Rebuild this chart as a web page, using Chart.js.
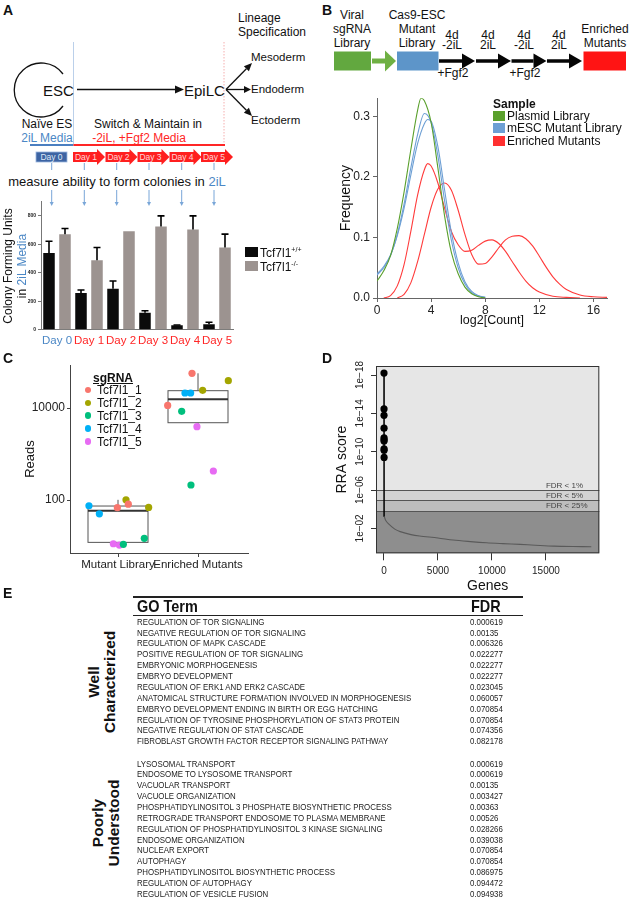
<!DOCTYPE html>
<html>
<head>
<meta charset="utf-8">
<script src="https://cdn.jsdelivr.net/npm/chart.js@4.4.0/dist/chart.umd.min.js"></script>
<style>
  body { margin: 0; background: #fff; }
  #page { position: relative; width: 633px; height: 900px; overflow: hidden;
          font-family: "Liberation Sans", Arial, sans-serif; color: #111; }
  #page canvas { position: absolute; }
  #art { position: absolute; left: 0; top: 0; }
  .t { position: absolute; white-space: nowrap; line-height: 1; }
  .c { transform: translate(-50%, -50%); text-align: center; }
  .l { transform: translateY(-50%); }
  .rot { transform: translate(-50%, -50%) rotate(-90deg); text-align: center; }
  .panel { font-weight: bold; font-size: 14px; }
  .blue { color: #4b87c5; }
  .red { color: #ff2626; }
  .sw { position: absolute; }
  .go { position: absolute; white-space: nowrap; line-height: 1; transform: translateY(-50%) scaleX(0.83);
        transform-origin: left center; font-size: 9.5px; color: #222; }
  .gohead { position: absolute; white-space: nowrap; line-height: 1; transform: translateY(-50%) scaleX(0.85);
        transform-origin: left center; font-weight: bold; font-size: 17px; }
  .rule { position: absolute; background: #222; }
  .grp { position: absolute; transform: translate(-50%, -50%) rotate(-90deg); text-align: center;
         font-weight: bold; font-size: 15.5px; line-height: 1.05; white-space: nowrap; }
</style>
</head>
<body>
<div id="page">
  <svg id="art" width="633" height="900"></svg>

  <canvas id="cfuChart" width="240" height="170" style="left:0;top:190px"></canvas>
  <canvas id="densChart" width="303" height="255" style="left:330px;top:80px"></canvas>
  <canvas id="readsChart" width="240" height="235" style="left:15px;top:340px"></canvas>
  <canvas id="rraChart" width="308" height="270" style="left:325px;top:330px"></canvas>

  <!-- panel letters -->
  <div class="t panel" style="left:3px;top:3px">A</div>
  <div class="t panel" style="left:322px;top:3px">B</div>
  <div class="t panel" style="left:3px;top:351px">C</div>
  <div class="t panel" style="left:322px;top:351px">D</div>
  <div class="t panel" style="left:3px;top:586px">E</div>

  <!-- panel A diagram text -->
  <div class="t" style="left:238px;top:11px;font-size:12px;line-height:14px">Lineage<br>Specification</div>
  <div class="t l" style="left:43px;top:90px;font-size:15px">ESC</div>
  <div class="t l" style="left:184px;top:90px;font-size:15px">EpiLC</div>
  <div class="t l" style="left:251px;top:58px;font-size:11.5px">Mesoderm</div>
  <div class="t l" style="left:251px;top:89.5px;font-size:11.5px">Endoderm</div>
  <div class="t l" style="left:251px;top:121px;font-size:11.5px">Ectoderm</div>
  <div class="t c" style="left:47px;top:124px;font-size:12px">Naïve ES</div>
  <div class="t c blue" style="left:47px;top:137.5px;font-size:12px">2iL Media</div>
  <div class="t c" style="left:148px;top:124px;font-size:12px">Switch &amp; Maintain in</div>
  <div class="t c red" style="left:139px;top:137.5px;font-size:12px">-2iL, +Fgf2 Media</div>
  <div class="t c" style="left:117px;top:181px;font-size:13px">measure ability to form colonies in <span class="blue">2iL</span></div>

  <!-- panel A axis title and legend -->
  <div class="t rot" style="left:8px;top:266px;font-size:12px">Colony Forming Units</div>
  <div class="t rot" style="left:22px;top:266px;font-size:12px">in <span class="blue">2iL Media</span></div>
  <div class="sw" style="left:245px;top:247px;width:13px;height:10px;background:#0b0b0b"></div>
  <div class="t l" style="left:260px;top:252px;font-size:12px">Tcf7l1<sup style="font-size:7px">+/+</sup></div>
  <div class="sw" style="left:245px;top:261px;width:13px;height:10px;background:#9c9390"></div>
  <div class="t l" style="left:260px;top:266px;font-size:12px">Tcf7l1<sup style="font-size:7px">-/-</sup></div>

  <!-- panel B diagram text -->
  <div class="t c" style="left:352px;top:29px;font-size:12px;line-height:14px">Viral<br>sgRNA<br>Library</div>
  <div class="t c" style="left:417px;top:29px;font-size:12px;line-height:14px">Cas9-ESC<br>Mutant<br>Library</div>
  <div class="t c" style="left:452px;top:40px;font-size:12px;line-height:10px">4d<br>-2iL</div>
  <div class="t c" style="left:488px;top:40px;font-size:12px;line-height:10px">4d<br>2iL</div>
  <div class="t c" style="left:524px;top:40px;font-size:12px;line-height:10px">4d<br>-2iL</div>
  <div class="t c" style="left:559px;top:40px;font-size:12px;line-height:10px">4d<br>2iL</div>
  <div class="t c" style="left:453px;top:73px;font-size:12px">+Fgf2</div>
  <div class="t c" style="left:525px;top:73px;font-size:12px">+Fgf2</div>
  <div class="t c" style="left:605px;top:36px;font-size:12px;line-height:14px">Enriched<br>Mutants</div>

  <!-- panel B legend -->
  <div class="t l" style="left:493px;top:104px;font-size:12px;font-weight:bold">Sample</div>
  <div class="sw" style="left:493px;top:110.5px;width:12px;height:10px;background:#5aa02c"></div>
  <div class="t l" style="left:507px;top:115.5px;font-size:12px">Plasmid Library</div>
  <div class="sw" style="left:493px;top:123px;width:12px;height:10px;background:#6d9fd4"></div>
  <div class="t l" style="left:507px;top:128px;font-size:12px">mESC Mutant Library</div>
  <div class="sw" style="left:493px;top:136px;width:12px;height:10px;background:#ff3030"></div>
  <div class="t l" style="left:507px;top:141px;font-size:12px">Enriched Mutants</div>

  <!-- panel C legend -->
  <div class="t l" style="left:93px;top:378px;font-size:12px;font-weight:bold;text-decoration:underline">sgRNA</div>
  <div id="sgLegend"></div>

  <div id="goTable"></div>
</div>

<script>
// ---------- panel A data ----------
const days = ['Day 0', 'Day 1', 'Day 2', 'Day 3', 'Day 4', 'Day 5'];
const wtCfu = [540, 258, 288, 119, 31, 38];
const wtSd = [82, 21, 54, 14, 2, 14];
const koCfu = [672, 489, 693, 725, 704, 578];
const koSd = [40, 89, 0, 75, 96, 94];
const cfuTicks = [0, 200, 400, 600, 800];

// ---------- panel B data (log2 count, frequency) ----------
const plasmidCurve = [[0,0.028],[0.5,0.045],[1,0.07],[1.5,0.115],[2,0.175],[2.5,0.245],[3,0.31],[3.25,0.33],
  [3.5,0.326],[4,0.29],[4.5,0.215],[5,0.135],[5.5,0.075],[6,0.04],[6.5,0.018],[7,0.007],[7.5,0.002],[8,0]];
const mescCurveA = [[0,0.038],[0.5,0.05],[1,0.07],[1.5,0.105],[2,0.155],[2.5,0.215],[3,0.27],[3.5,0.305],
  [4,0.29],[4.5,0.235],[5,0.16],[5.5,0.095],[6,0.05],[6.5,0.023],[7,0.009],[7.5,0.003],[8,0.001]];
const mescCurveB = [[0,0.04],[0.5,0.052],[1,0.071],[1.5,0.103],[2,0.148],[2.5,0.203],[3,0.255],[3.5,0.288],
  [3.75,0.295],[4,0.292],[4.5,0.25],[5,0.178],[5.5,0.108],[6,0.058],[6.5,0.027],[7,0.011],[7.5,0.004],[8,0.001]];
const enrichedCurveA = [[0.5,0],[1,0.004],[1.5,0.02],[2,0.055],[2.5,0.11],[3,0.17],[3.5,0.212],[3.75,0.222],
  [4,0.218],[4.5,0.19],[5,0.148],[5.5,0.11],[6,0.088],[6.5,0.077],[7,0.079],[7.5,0.087],[8,0.094],[8.5,0.096],
  [9,0.09],[9.5,0.077],[10,0.06],[10.5,0.043],[11,0.028],[11.5,0.017],[12,0.01],[13,0.003],[14,0.001],[15,0]];
const enrichedCurveB = [[1.5,0],[2,0.006],[2.5,0.025],[3,0.06],[3.5,0.105],[4,0.15],[4.5,0.18],[5,0.19],
  [5.5,0.178],[6,0.145],[6.5,0.105],[7,0.072],[7.5,0.056],[8,0.057],[8.5,0.068],[9,0.083],[9.5,0.096],[10,0.102],
  [10.5,0.103],[11,0.098],[11.5,0.086],[12,0.069],[12.5,0.051],[13,0.035],[13.5,0.023],[14,0.014],[15,0.005],
  [16,0.002],[17,0.001]];
const countTicks = [0, 4, 8, 12, 16];
const freqTicks = [0, 0.1, 0.2, 0.3];

// ---------- panel C data ----------
const readGroups = ['Mutant Library', 'Enriched Mutants'];
const guides = ['Tcf7l1_1', 'Tcf7l1_2', 'Tcf7l1_3', 'Tcf7l1_4', 'Tcf7l1_5'];
const guideColors = ['#F8766D', '#A3A500', '#00BF7D', '#00B0F6', '#E76BF3'];
const mutantReads = [[68, 81], [101, 69], [14.7, 10.9], [75, 50], [11.2, 10.5]];
const mutantJitter = [[-0.008, 0.129], [0.1, 0.383], [0.329, 0.067], [-0.363, -0.233], [-0.058, 0.017]];
const enrichedReads = [[56800, 11400], [39300, 24200], [8470, 212], [21200, 21200], [3930, 427]];
const enrichedJitter = [[-0.075, -0.379], [0.379, 0.058], [-0.204, -0.088], [-0.163, -0.092], [-0.013, 0.192]];
const boxQ1 = [12, 4790];
const boxMedian = [58.6, 15500];
const boxQ3 = [74, 23800];
const whiskerLow = [10.5, 3930];
const whiskerHigh = [101, 56800];
const readTicks = [100, 10000];

// ---------- panel D data ----------
const hitRank = [1, 2, 3, 4, 5, 6, 7, 8, 9, 10, 30];
const hitRra = [6.3e-19, 3.5e-15, 1.6e-14, 3.5e-13, 3.5e-12, 5.6e-12, 7.9e-12, 5.0e-11, 7.1e-11, 4.0e-10, 6e-4];
const tailRank = [30, 150, 400, 1000, 1500, 2500, 3300, 5000, 6400, 8000, 9500, 11000, 12600, 14000, 15700, 17500, 19200];
const tailRra = [6e-4, 1.4e-3, 3.2e-3, 0.012, 0.022, 0.045, 0.063, 0.1, 0.166, 0.24, 0.32, 0.39, 0.47, 0.57, 0.71, 0.79, 0.83];
const fdrCuts = [1e-6, 1.2e-5, 1.45e-4];
const fdrLabels = ['FDR < 1%', 'FDR < 5%', 'FDR < 25%'];
const rraTicks = [1e-18, 1e-14, 1e-10, 1e-6, 1e-2];
const rraTickLabels = ['1e\u221218', '1e\u221214', '1e\u221210', '1e\u221206', '1e\u221202'];
const geneTicks = [0, 5000, 10000, 15000];

// ---------- panel E data ----------
const wellTerms = ['REGULATION OF TOR SIGNALING', 'NEGATIVE REGULATION OF TOR SIGNALING', 'REGULATION OF MAPK CASCADE',
  'POSITIVE REGULATION OF TOR SIGNALING', 'EMBRYONIC MORPHOGENESIS', 'EMBRYO DEVELOPMENT',
  'REGULATION OF ERK1 AND ERK2 CASCADE', 'ANATOMICAL STRUCTURE FORMATION INVOLVED IN MORPHOGENESIS',
  'EMBRYO DEVELOPMENT ENDING IN BIRTH OR EGG HATCHING', 'REGULATION OF TYROSINE PHOSPHORYLATION OF STAT3 PROTEIN',
  'NEGATIVE REGULATION OF STAT CASCADE', 'FIBROBLAST GROWTH FACTOR RECEPTOR SIGNALING PATHWAY'];
const wellFdr = ['0.000619', '0.00135', '0.006326', '0.022277', '0.022277', '0.022277', '0.023045', '0.060057',
  '0.070854', '0.070854', '0.074356', '0.082178'];
const poorTerms = ['LYSOSOMAL TRANSPORT', 'ENDOSOME TO LYSOSOME TRANSPORT', 'VACUOLAR TRANSPORT', 'VACUOLE ORGANIZATION',
  'PHOSPHATIDYLINOSITOL 3 PHOSPHATE BIOSYNTHETIC PROCESS', 'RETROGRADE TRANSPORT ENDOSOME TO PLASMA MEMBRANE',
  'REGULATION OF PHOSPHATIDYLINOSITOL 3 KINASE SIGNALING', 'ENDOSOME ORGANIZATION', 'NUCLEAR EXPORT', 'AUTOPHAGY',
  'PHOSPHATIDYLINOSITOL BIOSYNTHETIC PROCESS', 'REGULATION OF AUTOPHAGY', 'REGULATION OF VESICLE FUSION'];
const poorFdr = ['0.000619', '0.000619', '0.00135', '0.003427', '0.00363', '0.00526', '0.028266', '0.039038',
  '0.070854', '0.070854', '0.086975', '0.094472', '0.094938'];

const BLUE = '#4b87c5', RED = '#ff2626';

// ---------- diagrams (svg) ----------
const svg = document.getElementById('art');
function el(tag, attrs) {
  const e = document.createElementNS('http://www.w3.org/2000/svg', tag);
  for (const k in attrs) e.setAttribute(k, attrs[k]);
  svg.appendChild(e);
  return e;
}
function arrow(x1, y1, x2, y2, color, w, hl, hw) {
  const len = Math.hypot(x2 - x1, y2 - y1), dx = (x2 - x1) / len, dy = (y2 - y1) / len;
  const bx = x2 - dx * hl, by = y2 - dy * hl;
  el('line', { x1, y1, x2: bx, y2: by, stroke: color, 'stroke-width': w });
  el('polygon', { points: `${x2},${y2} ${bx - dy * hw},${by + dx * hw} ${bx + dy * hw},${by - dx * hw}`, fill: color });
}

// ESC self-renewal loop
el('path', { d: 'M 63,74 A 27 27 0 1 0 63,106', fill: 'none', stroke: '#111', 'stroke-width': 1.3 });
arrow(77, 89.5, 184, 89.5, '#111', 1.3, 9, 4);
arrow(226, 89.5, 252, 63, '#111', 1.3, 8, 3.5);
arrow(226, 89.5, 251, 89.5, '#111', 1.3, 7, 3.5);
arrow(226, 89.5, 252, 116, '#111', 1.3, 8, 3.5);
el('line', { x1: 73.5, y1: 42, x2: 73.5, y2: 144, stroke: '#a9c4e4', 'stroke-width': 0.8 });
el('line', { x1: 224, y1: 42, x2: 224, y2: 144, stroke: '#f29a9a', 'stroke-width': 0.8, 'stroke-dasharray': '1.5,1.5' });
el('line', { x1: 30, y1: 145, x2: 73.5, y2: 145, stroke: '#4b7fc0', 'stroke-width': 2 });
el('line', { x1: 73.5, y1: 145, x2: 225, y2: 145, stroke: '#ff2626', 'stroke-width': 2 });

// day boxes
el('rect', { x: 36, y: 152, width: 31, height: 10, fill: '#3d64a3', stroke: '#9bb6de', 'stroke-width': 0.8 });
const dayStarts = [73, 105.5, 137.5, 169.5, 201];
dayStarts.forEach(x0 => {
  el('polygon', { points: `${x0},152 ${x0 + 24},152 ${x0 + 24},149 ${x0 + 32},157 ${x0 + 24},165 ${x0 + 24},162 ${x0},162`, fill: '#ff1f1f' });
});
const dayTextX = [51.5, 86, 118.5, 150.5, 182.5, 214];
dayTextX.forEach((x, i) => {
  const t = el('text', { x, y: 160, 'font-size': 8.5, 'text-anchor': 'middle', fill: i === 0 ? '#dfe8f6' : '#ffd6d6',
    'font-family': 'Liberation Sans, Arial, sans-serif' });
  t.textContent = days[i];
});
const tickX = [51.7, 84.3, 116.7, 149, 181.7, 214];
tickX.forEach(x => {
  el('line', { x1: x, y1: 163, x2: x, y2: 170, stroke: '#79a6d8', 'stroke-width': 1 });
  arrow(x, 190, x, 206, '#79a6d8', 1, 4, 2);
});

// panel B workflow
el('rect', { x: 334, y: 51.5, width: 37, height: 19, fill: '#62a83f' });
arrow(372, 61, 396, 61, '#6fb043', 5, 11, 10.5);
el('rect', { x: 397, y: 51.5, width: 41.5, height: 19, fill: '#5d95c9' });
[[439, 475], [476, 511], [511.5, 546.5], [547, 582]].forEach(([a, b]) => arrow(a, 61, b, 61, '#050505', 3.5, 13, 7.5));
el('rect', { x: 583.5, y: 51.5, width: 42.5, height: 19, fill: '#ff1414' });

// ---------- chart defaults ----------
Chart.defaults.font.family = '"Liberation Sans", Arial, sans-serif';
Chart.defaults.color = '#222';
Chart.defaults.animation = false;
Chart.defaults.plugins.legend.display = false;
Chart.defaults.plugins.tooltip.enabled = false;

// error bars on top of the bars
const errorBars = {
  id: 'errorBars',
  afterDatasetsDraw(chart) {
    const ctx = chart.ctx, y = chart.scales.y;
    chart.data.datasets.forEach((ds, di) => {
      chart.getDatasetMeta(di).data.forEach((bar, i) => {
        const sd = ds.sd[i];
        if (!sd) return;
        const top = y.getPixelForValue(ds.data[i] + sd);
        ctx.save();
        ctx.strokeStyle = '#000';
        ctx.lineWidth = 1.6;
        ctx.beginPath();
        ctx.moveTo(bar.x, bar.y);
        ctx.lineTo(bar.x, top);
        ctx.moveTo(bar.x - 3.5, top);
        ctx.lineTo(bar.x + 3.5, top);
        ctx.stroke();
        ctx.restore();
      });
    });
  }
};

new Chart(document.getElementById('cfuChart'), {
  type: 'bar',
  data: {
    labels: days,
    datasets: [
      { label: 'Tcf7l1+/+', data: wtCfu, sd: wtSd, backgroundColor: '#0b0b0b' },
      { label: 'Tcf7l1-/-', data: koCfu, sd: koSd, backgroundColor: '#9c9390' }
    ]
  },
  options: {
    responsive: false, devicePixelRatio: 1,
    layout: { padding: { left: 0, right: 7, top: 11.7, bottom: 0 } },
    datasets: { bar: { categoryPercentage: 1, barPercentage: 0.72 } },
    scales: {
      x: {
        grid: { display: false, drawTicks: false },
        border: { color: '#777' },
        ticks: { color: c => (c.index === 0 ? BLUE : RED), font: { size: 11.5 }, padding: 4, maxRotation: 0, autoSkip: false },
        afterFit: s => { s.height = 30.3; }
      },
      y: {
        min: 0, max: 900,
        afterBuildTicks: a => { a.ticks = cfuTicks.map(v => ({ value: v })); },
        ticks: { font: { size: 5, weight: 'bold' }, padding: 2 },
        grid: { drawOnChartArea: false, tickLength: 3, color: '#777' },
        border: { color: '#777' },
        afterFit: s => { s.width = 41; }
      }
    }
  },
  plugins: [errorBars]
});

// ---------- panel B density ----------
const densSets = [
  { data: plasmidCurve, color: '#5aa02c' },
  { data: mescCurveA, color: '#6d9fd4' },
  { data: mescCurveB, color: '#6d9fd4' },
  { data: enrichedCurveA, color: '#ff3b3b' },
  { data: enrichedCurveB, color: '#ff3b3b' }
];
new Chart(document.getElementById('densChart'), {
  type: 'line',
  data: {
    datasets: densSets.map(s => ({
      data: s.data, borderColor: s.color, borderWidth: 1.1, pointRadius: 0,
      cubicInterpolationMode: 'monotone', fill: false
    }))
  },
  options: {
    responsive: false, devicePixelRatio: 1,
    layout: { padding: { left: 0, right: 26, top: 18.3, bottom: 0 } },
    scales: {
      x: {
        type: 'linear', min: 0, max: 17,
        afterBuildTicks: a => { a.ticks = countTicks.map(v => ({ value: v })); },
        ticks: { font: { size: 12 }, padding: 1, color: '#222' },
        grid: { drawOnChartArea: false, tickLength: 4, color: '#666' },
        border: { color: '#666' },
        title: { display: true, text: 'log2[Count]', font: { size: 12.5 }, color: '#111', padding: { top: 0, bottom: 7 } },
        afterFit: s => { s.height = 37; }
      },
      y: {
        min: 0, max: 0.33,
        afterBuildTicks: a => { a.ticks = freqTicks.map(v => ({ value: v })); },
        ticks: { font: { size: 12 }, padding: 3, color: '#222', callback: v => v.toFixed(1) },
        grid: { drawOnChartArea: false, tickLength: 4, color: '#666' },
        border: { color: '#666' },
        title: { display: true, text: 'Frequency', font: { size: 14 }, color: '#111', padding: { top: 8, bottom: 0 } },
        afterFit: s => { s.width = 47; }
      }
    }
  }
});

// ---------- panel C reads ----------
const boxPlot = {
  id: 'boxPlot',
  beforeDatasetsDraw(chart) {
    const ctx = chart.ctx, xs = chart.scales.x, ys = chart.scales.y;
    ctx.save();
    ctx.strokeStyle = '#555';
    readGroups.forEach((g, i) => {
      const cx = xs.getPixelForValue(i + 1);
      const half = (xs.getPixelForValue(1.375) - xs.getPixelForValue(1));
      const q1 = ys.getPixelForValue(boxQ1[i]), q3 = ys.getPixelForValue(boxQ3[i]);
      ctx.lineWidth = 1;
      ctx.beginPath();
      ctx.moveTo(cx, q3); ctx.lineTo(cx, ys.getPixelForValue(whiskerHigh[i]));
      ctx.moveTo(cx, q1); ctx.lineTo(cx, ys.getPixelForValue(whiskerLow[i]));
      ctx.stroke();
      ctx.fillStyle = '#fff';
      ctx.fillRect(cx - half, q3, half * 2, q1 - q3);
      ctx.strokeRect(cx - half, q3, half * 2, q1 - q3);
      ctx.lineWidth = 2;
      ctx.strokeStyle = '#333';
      const m = ys.getPixelForValue(boxMedian[i]);
      ctx.beginPath(); ctx.moveTo(cx - half, m); ctx.lineTo(cx + half, m); ctx.stroke();
      ctx.strokeStyle = '#555';
    });
    ctx.restore();
  }
};
new Chart(document.getElementById('readsChart'), {
  type: 'scatter',
  data: {
    datasets: guides.map((g, k) => ({
      label: g,
      data: [
        { x: 1 + mutantJitter[k][0], y: mutantReads[k][0] }, { x: 1 + mutantJitter[k][1], y: mutantReads[k][1] },
        { x: 2 + enrichedJitter[k][0], y: enrichedReads[k][0] }, { x: 2 + enrichedJitter[k][1], y: enrichedReads[k][1] }
      ],
      backgroundColor: guideColors[k], borderWidth: 0, pointRadius: 3.6
    }))
  },
  options: {
    responsive: false, devicePixelRatio: 1,
    layout: { padding: { left: 0, right: 7, top: 25, bottom: 0 } },
    scales: {
      x: {
        type: 'linear', min: 0.4, max: 2.625,
        afterBuildTicks: a => { a.ticks = [{ value: 1 }, { value: 2 }]; },
        ticks: { font: { size: 11.5 }, padding: 1, color: '#222', callback: v => readGroups[v - 1] },
        grid: { drawOnChartArea: false, tickLength: 4, color: '#444' },
        border: { color: '#444' },
        afterFit: s => { s.height = 22; }
      },
      y: {
        type: 'logarithmic', min: 7.05, max: 86100,
        afterBuildTicks: a => { a.ticks = readTicks.map(v => ({ value: v })); },
        ticks: { font: { size: 12 }, padding: 2, color: '#222', callback: v => String(v) },
        grid: { drawOnChartArea: false, tickLength: 3, color: '#444' },
        border: { color: '#444' },
        title: { display: true, text: 'Reads', font: { size: 13 }, color: '#111', padding: { top: 8, bottom: 0 } },
        afterFit: s => { s.width = 55; }
      }
    }
  },
  plugins: [boxPlot]
});

// sgRNA legend
const sgLegend = document.getElementById('sgLegend');
guides.forEach((g, k) => {
  const y = 390 + k * 12.9;
  sgLegend.insertAdjacentHTML('beforeend',
    `<div class="sw" style="left:${88 - 3.4}px;top:${y - 3.4}px;width:6.8px;height:6.8px;border-radius:50%;background:${guideColors[k]}"></div>` +
    `<div class="t l" style="left:97px;top:${y}px;font-size:12px">${g}</div>`);
});

// ---------- panel D RRA ----------
const fdrBands = {
  id: 'fdrBands',
  beforeDatasetsDraw(chart) {
    const { ctx, chartArea: a, scales: { y } } = chart;
    const edges = [a.top, ...fdrCuts.map(v => y.getPixelForValue(v)), a.bottom];
    const fills = ['#e6e6e6', '#d2d2d2', '#bdbdbd', '#8e8e8e'];
    ctx.save();
    fills.forEach((f, i) => { ctx.fillStyle = f; ctx.fillRect(a.left, edges[i], a.right - a.left, edges[i + 1] - edges[i]); });
    ctx.strokeStyle = '#555';
    ctx.lineWidth = 1;
    fdrCuts.forEach(v => {
      const py = Math.round(y.getPixelForValue(v)) + 0.5;
      ctx.beginPath(); ctx.moveTo(a.left, py); ctx.lineTo(a.right, py); ctx.stroke();
    });
    ctx.restore();
  },
  afterDatasetsDraw(chart) {
    const { ctx, chartArea: a, scales: { x, y } } = chart;
    ctx.save();
    ctx.fillStyle = '#444';
    ctx.font = '8px "Liberation Sans", Arial, sans-serif';
    ctx.textBaseline = 'bottom';
    fdrCuts.forEach((v, i) => ctx.fillText(fdrLabels[i], x.getPixelForValue(15000), y.getPixelForValue(v) - 0.5));
    ctx.strokeStyle = '#333';
    ctx.lineWidth = 1;
    ctx.strokeRect(a.left + 0.5, a.top + 0.5, a.right - a.left - 1, a.bottom - a.top - 1);
    ctx.restore();
  }
};
new Chart(document.getElementById('rraChart'), {
  type: 'line',
  data: {
    datasets: [
      { data: tailRank.map((r, i) => ({ x: r, y: tailRra[i] })), borderColor: '#5a5a5a', borderWidth: 1.1, pointRadius: 0, tension: 0.3 },
      { data: hitRank.map((r, i) => ({ x: r, y: hitRra[i] })), borderColor: '#000', borderWidth: 1.5, backgroundColor: '#000',
        pointRadius: c => (c.index < hitRank.length - 1 ? 3.6 : 0), pointBorderWidth: 0 }
    ]
  },
  options: {
    responsive: false, devicePixelRatio: 1,
    layout: { padding: { left: 0, right: 33.7, top: 36, bottom: 0 } },
    scales: {
      x: {
        type: 'linear', min: -740, max: 19940,
        afterBuildTicks: a => { a.ticks = geneTicks.map(v => ({ value: v })); },
        ticks: { font: { size: 10 }, padding: 5, color: '#222', callback: v => String(v) },
        grid: { drawOnChartArea: false, tickLength: 7, color: '#333' },
        border: { display: false },
        title: { display: true, text: 'Genes', font: { size: 14 }, color: '#111', padding: { top: 0, bottom: 5 } },
        afterFit: s => { s.height = 46.7; }
      },
      y: {
        type: 'logarithmic', reverse: true, min: 1.15e-19, max: 4,
        afterBuildTicks: a => { a.ticks = rraTicks.map(v => ({ value: v })); },
        ticks: { font: { size: 10 }, padding: -3, color: '#222', minRotation: 90, maxRotation: 90, crossAlign: 'center',
          callback: (v, i) => rraTickLabels[i] },
        grid: { drawOnChartArea: false, tickLength: 5, color: '#333' },
        border: { display: false },
        title: { display: true, text: 'RRA score', font: { size: 14 }, color: '#111', padding: { top: 9, bottom: 0 } },
        afterFit: s => { s.width = 51; }
      }
    }
  },
  plugins: [fdrBands]
});

// ---------- panel E table ----------
const table = document.getElementById('goTable');
function addRule(top, h) { table.insertAdjacentHTML('beforeend', `<div class="rule" style="left:133px;top:${top}px;width:390px;height:${h}px"></div>`); }
addRule(595.5, 2);
addRule(614.5, 1.5);
table.insertAdjacentHTML('beforeend', '<div class="gohead" style="left:137px;top:606px">GO Term</div><div class="gohead" style="left:471px;top:606px">FDR</div>');
function addRows(terms, fdr, y0) {
  terms.forEach((t, i) => {
    const y = y0 + i * 10.87;
    table.insertAdjacentHTML('beforeend', `<div class="go" style="left:137px;top:${y}px">${t}</div><div class="go" style="left:470px;top:${y}px">${fdr[i]}</div>`);
  });
}
addRows(wellTerms, wellFdr, 621.7);
addRows(poorTerms, poorFdr, 763.5);
table.insertAdjacentHTML('beforeend', '<div class="grp" style="left:102px;top:682px">Well<br>Characterized</div>');
table.insertAdjacentHTML('beforeend', '<div class="grp" style="left:106px;top:823px">Poorly<br>Understood</div>');
</script>
</body>
</html>
